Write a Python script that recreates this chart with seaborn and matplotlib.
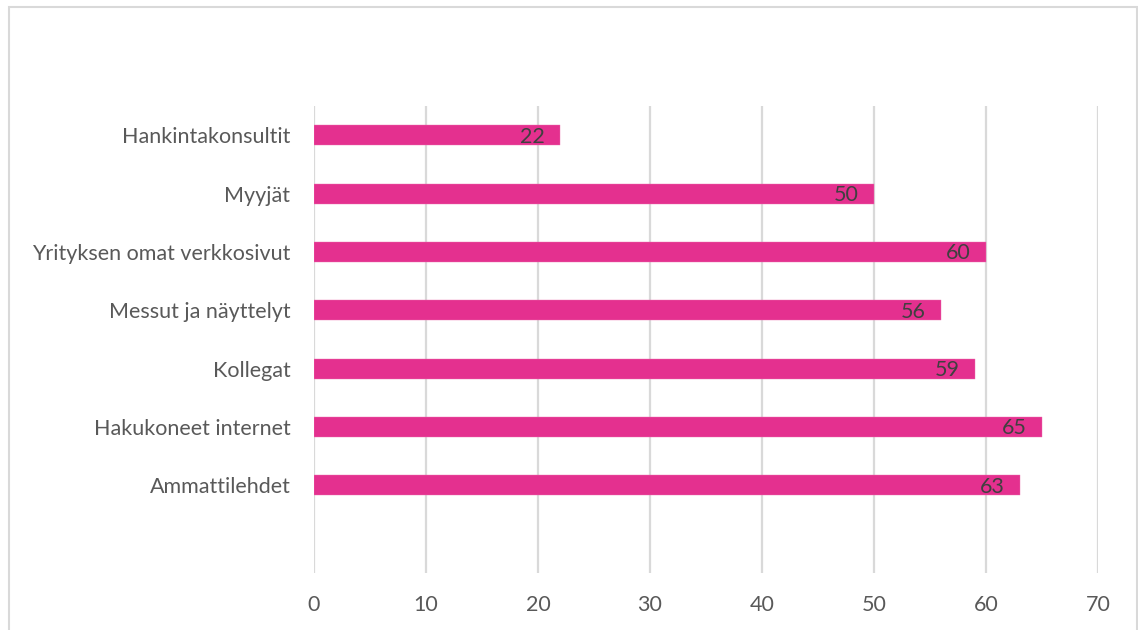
import matplotlib
matplotlib.use("Agg")
import matplotlib.pyplot as plt
import seaborn as sns
import pandas as pd
from matplotlib.patches import Rectangle

categories = ["Hankintakonsultit", "Myyjät", "Yrityksen omat verkkosivut",
              "Messut ja näyttelyt", "Kollegat", "Hakukoneet internet", "Ammattilehdet"]
values = [22, 50, 60, 56, 59, 65, 63]
x_ticks = [0, 10, 20, 30, 40, 50, 60, 70]

sns.set_theme(style="white")
plt.rcParams['font.family'] = ['Lato', 'DejaVu Sans']

W, H = 1138, 630
fig = plt.figure(figsize=(W / 100, H / 100), dpi=100)
ax = fig.add_axes([314 / W, (H - 573) / H, (1098 - 314) / W, (573 - 106) / H])

df = pd.DataFrame({"cat": categories, "val": values})
sns.barplot(data=df, x="val", y="cat", orient="h", color="#E4308F",
            saturation=1, width=0.343, ax=ax, edgecolor="#EC6FB0", linewidth=0.3)

ax.set_xlim(0, 70)
ax.set_ylim(7.5, -0.5)
ax.set_xticks(x_ticks)
ax.set_xticklabels([str(t) for t in x_ticks])
ax.set_xlabel("")
ax.set_ylabel("")
ax.grid(axis="x", color="#D9D9D9", linewidth=1.6)
ax.set_axisbelow(True)
for s in ax.spines.values():
    s.set_visible(False)
ax.tick_params(axis="both", length=0, labelsize=15.5, colors="#595959")
ax.tick_params(axis="x", pad=16)
ax.tick_params(axis="y", pad=17)

for i, v in enumerate(values):
    ax.annotate(str(v), xy=(v, i), xytext=(-11, -1), textcoords="offset points",
                ha="right", va="center", fontsize=15.5, color="#404040")

fig.patches.append(Rectangle((8.5 / W, -0.05), (1136.5 - 8.5) / W, 1.05 - 6.5 / H,
                             transform=fig.transFigure, fill=False,
                             edgecolor="#D9D9D9", linewidth=1.5))

fig.savefig("out.png", dpi=100)
